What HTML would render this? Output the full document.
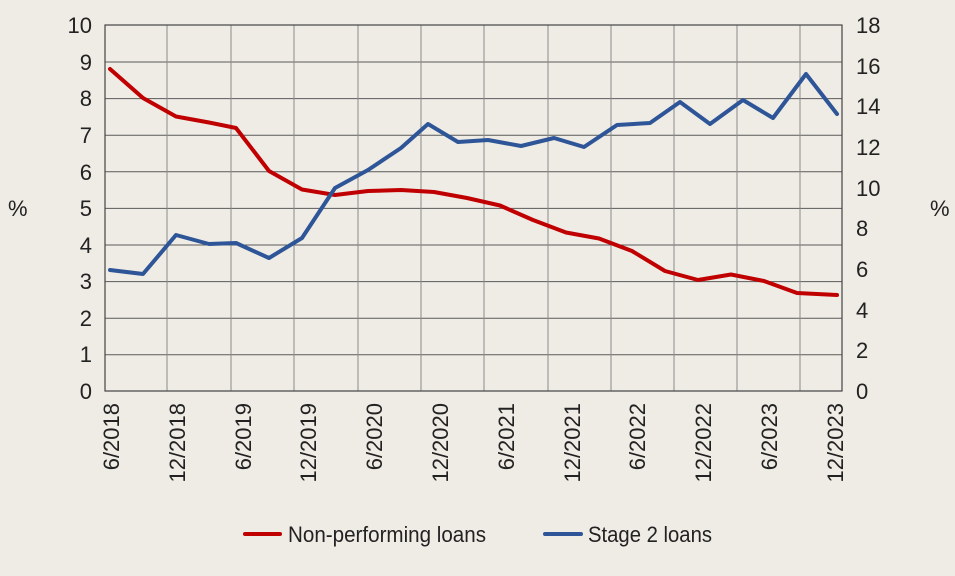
<!DOCTYPE html>
<html><head><meta charset="utf-8"><style>
body{margin:0;background:#efece6;}
svg{display:block;font-family:"Liberation Sans Narrow","Liberation Sans",sans-serif;}
</style></head><body>
<svg width="955" height="576" viewBox="0 0 955 576">
<rect width="955" height="576" fill="#efece6"/>
<g stroke="#5a5a5a" stroke-width="1">
<line x1="105" y1="62" x2="842" y2="62"/><line x1="105" y1="98.6" x2="842" y2="98.6"/>
<line x1="105" y1="135.2" x2="842" y2="135.2"/><line x1="105" y1="171.8" x2="842" y2="171.8"/>
<line x1="105" y1="208.4" x2="842" y2="208.4"/><line x1="105" y1="245" x2="842" y2="245"/>
<line x1="105" y1="281.6" x2="842" y2="281.6"/><line x1="105" y1="318.2" x2="842" y2="318.2"/>
<line x1="105" y1="354.8" x2="842" y2="354.8"/>
</g>
<g stroke="#8a8a8a" stroke-width="1">
<line x1="167" y1="25" x2="167" y2="391"/><line x1="231" y1="25" x2="231" y2="391"/>
<line x1="294" y1="25" x2="294" y2="391"/><line x1="358" y1="25" x2="358" y2="391"/>
<line x1="421" y1="25" x2="421" y2="391"/><line x1="484" y1="25" x2="484" y2="391"/>
<line x1="548" y1="25" x2="548" y2="391"/><line x1="611" y1="25" x2="611" y2="391"/>
<line x1="674" y1="25" x2="674" y2="391"/><line x1="737" y1="25" x2="737" y2="391"/>
<line x1="800" y1="25" x2="800" y2="391"/>
</g>
<rect x="105" y="25" width="737" height="366" fill="none" stroke="#444" stroke-width="1.2"/>
<g font-size="22" fill="#222" text-anchor="end">
<text x="92" y="33">10</text><text x="92" y="70">9</text><text x="92" y="106">8</text>
<text x="92" y="143">7</text><text x="92" y="180">6</text><text x="92" y="216">5</text>
<text x="92" y="253">4</text><text x="92" y="289">3</text><text x="92" y="326">2</text>
<text x="92" y="362">1</text><text x="92" y="399">0</text>
</g>
<g font-size="22" fill="#222" text-anchor="start">
<text x="856" y="33">18</text><text x="856" y="74">16</text><text x="856" y="114">14</text>
<text x="856" y="155">12</text><text x="856" y="196">10</text><text x="856" y="236">8</text>
<text x="856" y="277">6</text><text x="856" y="318">4</text><text x="856" y="358">2</text>
<text x="856" y="399">0</text>
</g>
<text x="8" y="216" font-size="22" fill="#222">%</text>
<text x="930" y="216" font-size="22" fill="#222">%</text>
<g font-size="22" fill="#222" text-anchor="end">
<text transform="translate(119,403) rotate(-90)">6/2018</text>
<text transform="translate(185,403) rotate(-90)">12/2018</text>
<text transform="translate(251,403) rotate(-90)">6/2019</text>
<text transform="translate(316,403) rotate(-90)">12/2019</text>
<text transform="translate(382,403) rotate(-90)">6/2020</text>
<text transform="translate(448,403) rotate(-90)">12/2020</text>
<text transform="translate(514,403) rotate(-90)">6/2021</text>
<text transform="translate(580,403) rotate(-90)">12/2021</text>
<text transform="translate(645,403) rotate(-90)">6/2022</text>
<text transform="translate(711,403) rotate(-90)">12/2022</text>
<text transform="translate(777,403) rotate(-90)">6/2023</text>
<text transform="translate(843,403) rotate(-90)">12/2023</text>
</g>
<polyline fill="none" stroke="#c00000" stroke-width="4" stroke-linejoin="round" stroke-linecap="round"
points="110,69 143,98 176,116.5 209,122.5 236,128 269,171 302,189.5 335,195 368,191 401,190 434,192 467,198 500,205.5 533,220 566,232.5 599,238.5 632,251 665,271 698,280 731,274.5 764,281 797,293 837,295"/>
<polyline fill="none" stroke="#2e5597" stroke-width="4" stroke-linejoin="round" stroke-linecap="round"
points="110,270 143,274 176,235 209,244 236,243 269,258 302,238 335,188 368,170 401,148 428,124 458,142 488,140 521,146 554,138 584,147 617,125 650,123 680,102 710,124 743,100 773,118 806,74 837,114"/>
<line x1="245" y1="534" x2="280" y2="534" stroke="#c00000" stroke-width="4" stroke-linecap="round"/>
<text x="288" y="542" font-size="22" fill="#222" textLength="198" lengthAdjust="spacingAndGlyphs">Non-performing loans</text>
<line x1="545" y1="534" x2="581" y2="534" stroke="#2e5597" stroke-width="4" stroke-linecap="round"/>
<text x="588" y="542" font-size="22" fill="#222" textLength="124" lengthAdjust="spacingAndGlyphs">Stage 2 loans</text>
</svg>
</body></html>
